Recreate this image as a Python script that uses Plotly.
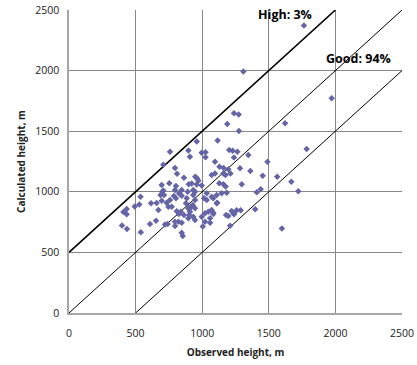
import plotly.graph_objects as go

# Observed vs calculated heights (m)
observed = [1764, 1309, 1972, 1622, 1239, 1274, 1188, 1276, 959, 1116,
            1784, 1346, 1490, 1361, 1454, 1563, 1669, 1721, 1439, 1410,
            1398, 1598, 1284, 1297, 1239, 1259, 1289, 1239, 1229, 1264,
            758, 896, 908, 996, 1025, 1025, 1203, 708, 796, 1096,
            1130, 1161, 1071, 811, 863, 948, 963, 971, 1175, 1212,
            1196, 696, 753, 803, 796, 708, 687, 788, 921, 959,
            996, 933, 891, 826, 846, 803, 758, 537, 616, 658,
            696, 733, 528, 493, 433, 408, 433, 398, 435, 539,
            608, 653, 721, 741, 796, 846, 854, 809, 821, 878,
            903, 914, 929, 946, 896, 903, 933, 863, 839, 1014,
            1034, 1021, 1059, 1004, 1071, 1083, 1109, 1071, 1179, 1196,
            1209, 1234, 1128, 1159, 1176, 1184, 1146, 1109, 1083, 1034,
            946, 884, 846, 946, 996, 1021, 1221, 1083, 1059, 1046,
            908, 896, 825, 796, 1096, 1159, 899, 846, 946, 1113,
            933, 713, 671, 746, 771, 700]
calculated = [2372, 1993, 1771, 1565, 1648, 1638, 1559, 1502, 1415, 1423,
              1353, 1304, 1248, 1172, 1133, 1125, 1083, 1005, 1021, 997,
              856, 697, 1194, 1062, 814, 847, 847, 1283, 1339, 1331,
              1330, 1341, 1290, 1323, 1327, 1285, 1345, 1224, 1197, 1248,
              1207, 1196, 1139, 1149, 1116, 1125, 1109, 1092, 1139, 1151,
              1186, 1056, 1070, 1048, 1015, 1011, 974, 965, 1068, 1060,
              1052, 1015, 1001, 988, 968, 946, 932, 960, 905, 908,
              927, 910, 895, 879, 858, 833, 814, 722, 693, 666,
              734, 762, 730, 734, 718, 663, 635, 840, 753, 905,
              856, 877, 891, 864, 781, 809, 795, 809, 836, 946,
              932, 823, 745, 713, 850, 828, 905, 960, 809, 800,
              720, 823, 1070, 1062, 1044, 993, 988, 974, 946, 988,
              932, 946, 745, 767, 795, 753, 842, 817, 781, 836,
              836, 864, 817, 753, 1150, 1150, 1062, 1015, 1001, 910,
              974, 974, 850, 877, 877, 1001]

# Reference lines: high limit (+500 m), 1:1 line, low limit (-500 m)
high_x = [0, 2000]
high_y = [500, 2500]
one_x = [0, 2500]
one_y = [0, 2500]
low_x = [500, 2500]
low_y = [0, 2000]

tick_vals = [0, 500, 1000, 1500, 2000, 2500]
tick_text = ["0", "500", "1000", "1500", "2000", "2500"]

fig = go.Figure()
fig.add_trace(go.Scatter(x=high_x, y=high_y, mode="lines",
                         line=dict(color="black", width=1.6), hoverinfo="skip"))
fig.add_trace(go.Scatter(x=one_x, y=one_y, mode="lines",
                         line=dict(color="black", width=1), hoverinfo="skip"))
fig.add_trace(go.Scatter(x=low_x, y=low_y, mode="lines",
                         line=dict(color="black", width=1), hoverinfo="skip"))
fig.add_trace(go.Scatter(x=observed, y=calculated, mode="markers",
                         marker=dict(symbol="diamond", size=5, color="#6464A6",
                                     line=dict(width=0))))

fig.add_annotation(x=1622, y=2459, text="<b>High: 3%</b>", showarrow=False,
                   font=dict(family="Open Sans", size=12.5, color="black"))
fig.add_annotation(x=2173, y=2104, text="<b>Good: 94%</b>", showarrow=False,
                   font=dict(family="Open Sans", size=12.5, color="black"))

axis_common = dict(range=[0, 2500], tickvals=tick_vals, ticktext=tick_text,
                   showgrid=True, gridcolor="#878787", gridwidth=1,
                   zeroline=False, showline=True, linecolor="#A6A6A6", linewidth=1.5,
                   ticks="", tickfont=dict(family="Open Sans", size=10.5, color="#222"),
                   fixedrange=True, automargin=False)

fig.update_layout(
    width=417, height=365,
    margin=dict(l=69, r=15, t=10, b=52),
    paper_bgcolor="white", plot_bgcolor="white",
    showlegend=False,
    xaxis=dict(**axis_common, ticklabelstandoff=10,
               title=dict(text="<b>Observed height, m</b>", standoff=10,
                          font=dict(family="Open Sans", size=10, color="#222"))),
    yaxis=dict(**axis_common, ticklabelstandoff=6,
               title=dict(text="<b>Calculated height, m</b>", standoff=8,
                          font=dict(family="Open Sans", size=10, color="#222"))),
)

fig.write_html("out.html")
